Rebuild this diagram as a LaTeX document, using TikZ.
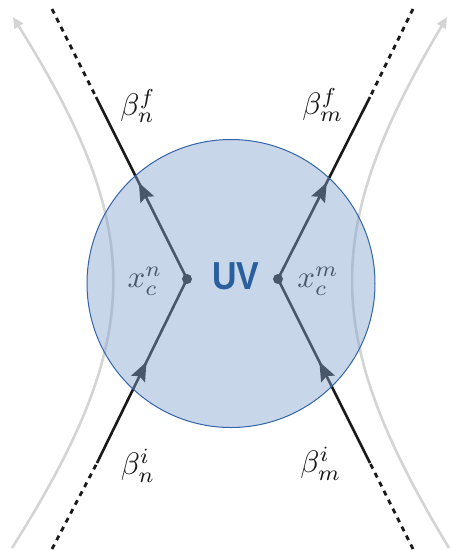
\documentclass[tikz,border=0pt]{standalone}
\usepackage{fontspec}
\newfontfamily\uvfont{Liberation Sans}
\usetikzlibrary{arrows.meta,decorations.markings}
\definecolor{fillblue}{RGB}{133,164,209}
\definecolor{edgeblue}{RGB}{50,100,168}
\definecolor{uvblue}{RGB}{42,95,158}
\definecolor{curvegray}{RGB}{212,212,212}
\definecolor{inkblack}{RGB}{25,25,25}
\newcommand{\biglbl}[1]{\scalebox{3.1}{$#1$}}
\begin{document}
\begin{tikzpicture}[x=1pt,y=-1pt,
  particle/.style={draw=inkblack, line width=2.6pt},
  tail/.style={draw=inkblack, line width=2.8pt, dash pattern=on 5pt off 5pt},
  flowarrow/.style={postaction={decorate}, decoration={markings,
      mark=at position #1 with {\arrow{Stealth[length=19pt,width=15pt,inset=3pt]}}}},
  flow/.style={draw=curvegray, line width=2.6pt, -{Triangle[length=11pt,width=10pt]}},
  lbl/.style={text=inkblack, inner sep=0pt},
  dot/.style={circle, fill=inkblack, inner sep=0pt, minimum size=10pt},
]
\useasboundingbox (0,0) rectangle (453,550);

% coordinates
\coordinate (gl0) at (12,548);
\coordinate (gl1) at (13,17);
\coordinate (gr0) at (449,548);
\coordinate (gr1) at (447,17);

\coordinate (vL) at (187,279);
\coordinate (fL) at (96,97);
\coordinate (fLd) at (52,9);
\coordinate (iL) at (97,463);
\coordinate (iLd) at (52,549);
\coordinate (vR) at (278,279);
\coordinate (fR) at (370,97);
\coordinate (fRd) at (413,9);
\coordinate (iR) at (370,463);
\coordinate (iRd) at (413,549);

% gray flow curves
\draw[flow] (gl0) .. controls (146,336) and (146,230) .. (gl1);
\draw[flow] (gr0) .. controls (321,336) and (321,230) .. (gr1);

% particle lines
\draw[tail] (fLd) -- (fL);
\draw[tail] (iLd) -- (iL);
\draw[tail] (fRd) -- (fR);
\draw[tail] (iRd) -- (iR);
\draw[particle, flowarrow=0.53] (vL) -- (fL);
\draw[particle, flowarrow=0.55] (iL) -- (vL);
\draw[particle, flowarrow=0.53] (vR) -- (fR);
\draw[particle, flowarrow=0.55] (iR) -- (vR);

\node[dot] (dL) at (vL) {};
\node[dot] (dR) at (vR) {};

\node[lbl] (xn) at (145,281) {\biglbl{x_c^n}};
\node[lbl] (xm) at (318,281) {\biglbl{x_c^m}};

% UV blob
\node[circle, minimum size=288pt, inner sep=0pt, fill=fillblue, fill opacity=0.45,
      draw=edgeblue, draw opacity=1, line width=1pt] (blob) at (231,283.5) {};
\node[inner sep=0pt, text=uvblue, font=\fontsize{39}{40}\selectfont\uvfont\bfseries]
  (uv) at (236,276) {\scalebox{0.87}[1]{UV}};

% beta labels
\node[lbl] (bnf) at (138,106) {\biglbl{\beta_n^f}};
\node[lbl] (bmf) at (323,105) {\biglbl{\beta_m^f}};
\node[lbl] (bni) at (138,466) {\biglbl{\beta_n^i}};
\node[lbl] (bmi) at (321,464) {\biglbl{\beta_m^i}};
\end{tikzpicture}
\end{document}
